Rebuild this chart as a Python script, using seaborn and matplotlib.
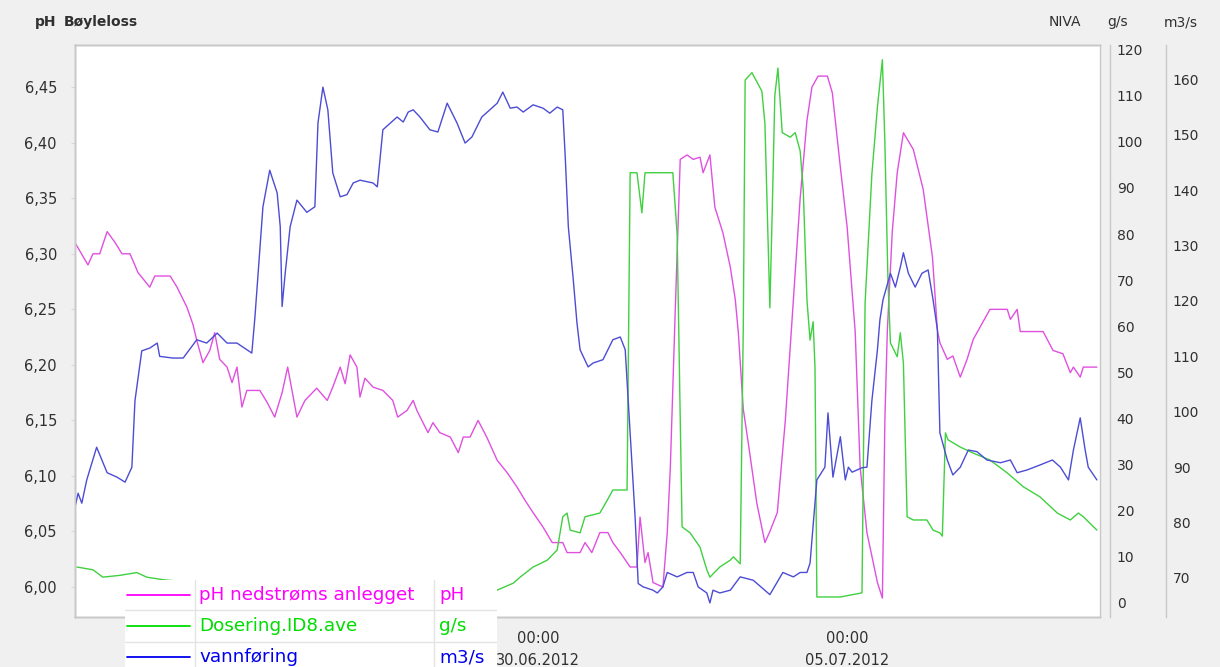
import numpy as np
import pandas as pd
import matplotlib
matplotlib.use('Agg')
import matplotlib.pyplot as plt
import matplotlib.dates as mdates
from matplotlib.ticker import FuncFormatter
import seaborn as sns

# Tid i døgn relativt til 30.06.2012 00:00
ph_days = [-7.49, -7.28, -7.20, -7.09, -6.97, -6.84, -6.73, -6.60, -6.47, -6.28, -6.20, -5.95, -5.84,
           -5.68, -5.58, -5.52, -5.42, -5.31, -5.23, -5.15, -5.03, -4.95, -4.87, -4.79, -4.71, -4.50,
           -4.38, -4.26, -4.14, -4.05, -3.90, -3.77, -3.58, -3.41, -3.32, -3.20, -3.12, -3.04, -2.93,
           -2.88, -2.80, -2.67, -2.51, -2.35, -2.27, -2.12, -2.02, -1.96, -1.78, -1.70, -1.59, -1.42,
           -1.29, -1.21, -1.10, -0.97, -0.83, -0.66, -0.50, -0.34, -0.21, -0.08, 0.08, 0.23, 0.40,
           0.47, 0.68, 0.76, 0.87, 1.00, 1.13, 1.21, 1.33, 1.49, 1.60, 1.65, 1.73, 1.78, 1.86, 2.02,
           2.09, 2.14, 2.22, 2.30, 2.41, 2.51, 2.62, 2.67, 2.78, 2.86, 2.99, 3.11, 3.19, 3.24, 3.32,
           3.40, 3.54, 3.67, 3.75, 3.87, 4.00, 4.13, 4.24, 4.35, 4.43, 4.53, 4.68, 4.76, 4.89, 5.00,
           5.13, 5.21, 5.32, 5.49, 5.57, 5.61, 5.65, 5.73, 5.81, 5.91, 6.07, 6.23, 6.38, 6.46, 6.50,
           6.62, 6.71, 6.83, 6.94, 7.04, 7.15, 7.31, 7.59, 7.64, 7.75, 7.80, 8.17, 8.33, 8.49, 8.61,
           8.66, 8.77, 8.82, 9.04]
ph_vals = [6.310, 6.290, 6.300, 6.300, 6.320, 6.310, 6.300, 6.300, 6.283, 6.270, 6.280, 6.280, 6.270,
           6.252, 6.236, 6.222, 6.202, 6.213, 6.229, 6.205, 6.198, 6.184, 6.198, 6.162, 6.177, 6.177,
           6.166, 6.153, 6.175, 6.198, 6.153, 6.168, 6.179, 6.168, 6.180, 6.198, 6.183, 6.209, 6.198,
           6.171, 6.188, 6.180, 6.177, 6.168, 6.153, 6.159, 6.168, 6.159, 6.139, 6.148, 6.139, 6.135,
           6.121, 6.135, 6.135, 6.150, 6.135, 6.114, 6.103, 6.090, 6.078, 6.067, 6.054, 6.040, 6.040,
           6.031, 6.031, 6.040, 6.031, 6.049, 6.049, 6.040, 6.031, 6.018, 6.018, 6.063, 6.022, 6.031,
           6.004, 6.000, 6.049, 6.108, 6.250, 6.385, 6.389, 6.385, 6.387, 6.373, 6.389, 6.342, 6.319,
           6.288, 6.259, 6.229, 6.160, 6.130, 6.075, 6.040, 6.050, 6.067, 6.150, 6.259, 6.350, 6.420,
           6.450, 6.460, 6.460, 6.445, 6.378, 6.324, 6.230, 6.108, 6.049, 6.004, 5.990, 6.150, 6.231,
           6.320, 6.373, 6.409, 6.394, 6.358, 6.297, 6.231, 6.220, 6.205, 6.208, 6.189, 6.205, 6.223,
           6.234, 6.250, 6.250, 6.241, 6.250, 6.230, 6.230, 6.213, 6.210, 6.193, 6.198, 6.189, 6.198,
           6.198]

dos_days = [-7.46, -7.20, -7.04, -6.76, -6.49, -6.33, -6.04, -5.15, -3.85, -2.23, -1.10, -0.66, -0.40,
            -0.29, -0.08, 0.03, 0.15, 0.31, 0.40, 0.47, 0.52, 0.68, 0.76, 1.00, 1.12, 1.21, 1.41, 1.44,
            1.49, 1.60, 1.68, 1.73, 2.18, 2.25, 2.30, 2.33, 2.46, 2.62, 2.73, 2.78, 2.94, 3.11, 3.16,
            3.27, 3.32, 3.35, 3.46, 3.62, 3.67, 3.75, 3.79, 3.83, 3.88, 3.95, 4.08, 4.16, 4.24, 4.29,
            4.35, 4.40, 4.45, 4.48, 4.51, 4.89, 5.24, 5.29, 5.40, 5.49, 5.57, 5.61, 5.66, 5.70, 5.81,
            5.86, 5.91, 5.97, 6.07, 6.29, 6.39, 6.50, 6.54, 6.59, 6.63, 6.83, 7.04, 7.31, 7.59, 7.85,
            8.12, 8.40, 8.61, 8.74, 8.82, 9.04]
dos_vals = [7.8, 7.2, 5.6, 6.0, 6.6, 5.6, 5.0, 4.0, 3.0, 2.0, 1.5, 2.8, 4.3,
            5.6, 7.8, 8.5, 9.3, 11.5, 18.7, 19.5, 15.8, 15.2, 18.7, 19.5, 22.3, 24.5, 24.5, 24.5,
            93.3, 93.3, 84.6, 93.3, 93.3, 80.0, 40.0, 16.5, 15.2, 12.1, 7.2, 5.6, 7.8, 9.3, 10.0,
            8.5, 60.0, 113.4, 115.0, 111.0, 104.0, 64.0, 86.0, 110.0, 116.0, 102.0, 101.0, 102.0, 98.0, 89.6,
            65.7, 57.0, 61.0, 51.0, 1.3, 1.3, 2.2, 65.0, 93.0, 107.6, 117.8, 100.0, 70.0, 56.4, 53.4,
            58.6, 52.0, 18.7, 18.0, 18.0, 15.8, 15.2, 14.5, 36.9, 35.4, 33.8, 32.5, 31.0, 28.2, 25.2,
            23.0, 19.5, 18.0, 19.5, 18.7, 15.8]

flow_days = [-7.49, -7.44, -7.38, -7.30, -7.14, -6.97, -6.81, -6.68, -6.57, -6.52, -6.41, -6.28, -6.16,
             -6.12, -5.91, -5.74, -5.52, -5.36, -5.19, -5.03, -4.87, -4.63, -4.58, -4.45, -4.34, -4.22,
             -4.17, -4.14, -4.09, -4.01, -3.90, -3.74, -3.61, -3.56, -3.48, -3.40, -3.32, -3.20, -3.09,
             -2.99, -2.88, -2.67, -2.60, -2.51, -2.39, -2.28, -2.18, -2.10, -2.02, -1.91, -1.75, -1.62,
             -1.47, -1.31, -1.18, -1.07, -0.91, -0.78, -0.66, -0.57, -0.45, -0.34, -0.24, -0.08, 0.08,
             0.19, 0.31, 0.40, 0.44, 0.49, 0.57, 0.63, 0.68, 0.81, 0.89, 1.05, 1.21, 1.33, 1.41, 1.49,
             1.57, 1.62, 1.70, 1.86, 1.93, 2.02, 2.09, 2.25, 2.41, 2.51, 2.59, 2.73, 2.78, 2.83, 2.94,
             3.11, 3.27, 3.48, 3.75, 3.96, 4.13, 4.24, 4.35, 4.40, 4.51, 4.64, 4.69, 4.77, 4.89, 4.97,
             5.02, 5.08, 5.24, 5.32, 5.40, 5.49, 5.53, 5.58, 5.70, 5.78, 5.86, 5.91, 5.99, 6.10, 6.21,
             6.31, 6.39, 6.46, 6.50, 6.62, 6.71, 6.83, 6.96, 7.10, 7.26, 7.48, 7.64, 7.75, 7.91, 8.12,
             8.32, 8.45, 8.58, 8.66, 8.77, 8.85, 8.90, 9.04]
flow_vals = [82.8, 85.3, 83.5, 87.7, 93.6, 89.0, 88.2, 87.3, 90.0, 102.0, 111.0, 111.5, 112.4,
             110.0, 109.7, 109.7, 113.0, 112.4, 114.2, 112.4, 112.4, 110.6, 117.0, 137.0, 143.6, 139.5,
             133.4, 119.0, 125.0, 133.4, 138.2, 136.0, 137.0, 152.1, 158.6, 154.5, 143.1, 138.8, 139.2,
             141.3, 141.8, 141.3, 140.6, 150.9, 152.1, 153.2, 152.3, 154.1, 154.5, 153.2, 150.9, 150.5,
             155.7, 152.1, 148.5, 149.6, 153.2, 154.5, 155.7, 157.7, 154.8, 155.0, 154.1, 155.4, 154.8,
             153.9, 155.0, 154.5, 146.0, 133.4, 123.8, 116.0, 111.2, 108.1, 108.8, 109.4, 113.0, 113.5, 111.2, 96.2,
             81.0, 69.0, 68.4, 67.8, 67.3, 68.4, 71.0, 70.2, 71.0, 71.0, 68.4, 67.3, 65.5, 67.8, 67.3,
             67.8, 70.2, 69.6, 67.0, 71.0, 70.2, 71.0, 71.0, 72.7, 87.7, 90.0, 99.8, 88.2, 95.5, 87.7,
             90.0, 89.1, 89.9, 90.0, 102.0, 111.2, 116.6, 120.2, 125.0, 122.5, 126.1, 128.7, 125.0, 122.5, 125.0,
             125.6, 120.2, 114.8, 96.2, 91.3, 88.6, 90.0, 93.1, 92.8, 91.3, 90.8, 91.3, 89.0, 89.5, 90.4,
             91.3, 90.0, 87.7, 93.1, 98.9, 93.1, 90.0, 87.7]

series_names = ['pH nedstrøms anlegget', 'Dosering.ID8.ave', 'vannføring']
series_units = ['pH', 'g/s', 'm3/s']
line_colors = ['#e050e0', '#40d040', '#4c4cd4']
legend_colors = ['#ff00ff', '#00dd00', '#0000ee']

ph_ticks = [6.00, 6.05, 6.10, 6.15, 6.20, 6.25, 6.30, 6.35, 6.40, 6.45]
dos_ticks = [0, 10, 20, 30, 40, 50, 60, 70, 80, 90, 100, 110, 120]
flow_ticks = [70, 80, 90, 100, 110, 120, 130, 140, 150, 160]

start = pd.Timestamp('2012-06-30')
def to_frame(days, vals):
    return pd.DataFrame({'tid': start + pd.to_timedelta(days, unit='D'), 'verdi': vals})

df_ph = to_frame(ph_days, ph_vals)
df_dos = to_frame(dos_days, dos_vals)
df_flow = to_frame(flow_days, flow_vals)

sns.set_style('white')
plt.rcParams['font.family'] = ['DejaVu Sans']

bg = '#f0f0f0'
txt = '#303030'
fig = plt.figure(figsize=(12.2, 6.67), dpi=100, facecolor=bg)
ax = fig.add_axes([75/1220, 50/667, 1025/1220, 572/667])
ax.set_facecolor('white')
ax2 = ax.twinx()
ax3 = ax.twinx()

sns.lineplot(data=df_ph, x='tid', y='verdi', ax=ax, color=line_colors[0], linewidth=1.0, errorbar=None)
sns.lineplot(data=df_dos, x='tid', y='verdi', ax=ax2, color=line_colors[1], linewidth=1.0, errorbar=None)
sns.lineplot(data=df_flow, x='tid', y='verdi', ax=ax3, color=line_colors[2], linewidth=1.0, errorbar=None)

ax.set_xlim(start + pd.Timedelta(days=-7.49), start + pd.Timedelta(days=9.09))
ax.set_ylim(5.973, 6.488)
ax2.set_ylim(-3.04, 121.0)
ax3.set_ylim(62.96, 166.2)

for a in (ax, ax2, ax3):
    a.set_xlabel('')
    a.set_ylabel('')
    for s in a.spines.values():
        s.set_color('#c8c8c8')
        s.set_linewidth(1.0)

ax.set_yticks(ph_ticks)
ax.yaxis.set_major_formatter(FuncFormatter(lambda v, p: f'{v:.2f}'.replace('.', ',')))
ax.tick_params(axis='y', length=3, color='#d8d8d8', pad=10, labelsize=10.5, labelcolor=txt)

ax2.set_yticks(dos_ticks)
ax2.spines['right'].set_position(('outward', 7))
ax2.tick_params(axis='y', length=0, pad=5, labelsize=10, labelcolor=txt)

ax3.set_yticks(flow_ticks)
ax3.spines['right'].set_position(('outward', 47.5))
ax3.tick_params(axis='y', length=0, pad=5, labelsize=10, labelcolor=txt)

ax.set_xticks([pd.Timestamp('2012-06-30'), pd.Timestamp('2012-07-05')])
ax.xaxis.set_major_formatter(mdates.DateFormatter('%H:%M\n%d.%m.%Y'))
ax.tick_params(axis='x', length=0, pad=10, labelsize=10.5, labelcolor=txt)
for t in ax.get_xticklabels():
    t.set_linespacing(1.6)

# Overskrifter
fig.text(35/1220, 1 - 22/667, 'pH', fontsize=10, fontweight='bold', color=txt, va='center')
fig.text(64/1220, 1 - 22/667, 'Bøyleloss', fontsize=10, fontweight='bold', color=txt, va='center')
fig.text(1049/1220, 1 - 22/667, 'NIVA', fontsize=10, color=txt, va='center')
fig.text(1107/1220, 1 - 22/667, 'g/s', fontsize=10, color=txt, va='center')
fig.text(1164/1220, 1 - 22/667, 'm3/s', fontsize=10, color=txt, va='center')

# Tegnforklaring (tabell)
lax = fig.add_axes([125/1220, 0, 372/1220, 87/667], zorder=10)
lax.set_facecolor('white')
lax.set_xlim(0, 1)
lax.set_ylim(0, 1)
lax.set_xticks([])
lax.set_yticks([])
for s in lax.spines.values():
    s.set_visible(False)
row_y = [0.83, 0.47, 0.11]
for i, name in enumerate(series_names):
    y = row_y[i]
    lax.plot([0.005, 0.175], [y, y], color=legend_colors[i], linewidth=1.3)
    lax.text(0.2, y, name, color=legend_colors[i], fontsize=13.2, va='center')
    lax.text(0.845, y, series_units[i], color=legend_colors[i], fontsize=13.2, va='center')
for y in (0.65, 0.29):
    lax.axhline(y, color='#e4e4e4', linewidth=1)
for x in (0.188, 0.83):
    lax.axvline(x, color='#e4e4e4', linewidth=1)

fig.savefig('out.png', dpi=100, facecolor=bg)
